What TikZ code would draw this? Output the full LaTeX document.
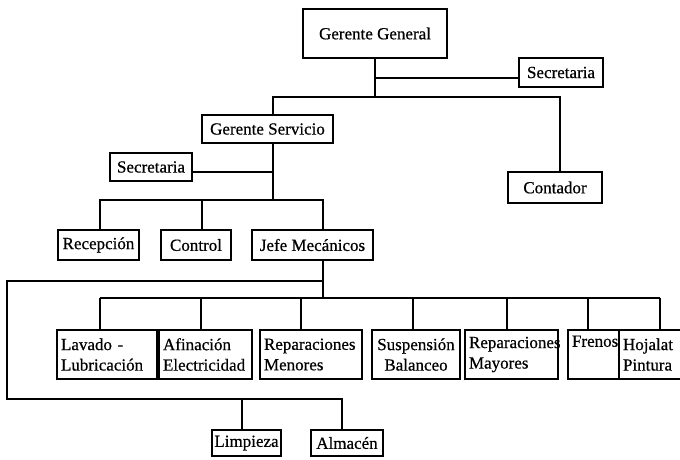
\documentclass[tikz,border=0pt]{standalone}
\usepackage{fontspec}
\setmainfont{Liberation Serif}
\newfontfamily\chartfont[FakeBold=0.6]{Liberation Serif}
\begin{document}
\begin{tikzpicture}[x=1pt,y=-1pt,
  box/.style={draw, line width=1.7pt, inner sep=1pt, align=left,
    font=\chartfont\fontsize{17}{20.5}\selectfont},
  rowbox/.style={box, inner xsep=4pt, text width=#1, minimum height=49pt},
  wire/.style={line width=1.6pt}]
\useasboundingbox (0,0) rectangle (680,459);
% top level
\node[box, line width=2pt, minimum width=144pt, minimum height=49pt] (gg) at (375,33.5) {Gerente General};
\node[box, minimum width=84pt, minimum height=29pt] (sec1) at (561,72.5) {Secretaria};
\node[box, minimum width=94pt, minimum height=31pt] (cont) at (555,187.5) {Contador};
\node[box, minimum width=131pt, minimum height=28pt] (gs) at (267.5,129) {Gerente Servicio};
\node[box, minimum width=82pt, minimum height=28pt] (sec2) at (151,167) {Secretaria};
\node[box, minimum width=81pt, minimum height=30pt] (rec) at (98.5,245) {Recepción};
\node[box, minimum width=70pt, minimum height=30pt] (ctrl) at (196,245) {Control};
\node[box, minimum width=121pt, minimum height=30pt] (jefe) at (312.5,245) {Jefe Mecánicos};
% workshop row (text width = box width - 8pt)
\node[rowbox=92pt] (lav) at (107,354.5) {Lavado -\\Lubricación};
\node[rowbox=85pt] (afi) at (205.5,354.5) {Afinación\\Electricidad};
\node[rowbox=94pt] (rmen) at (311,354.5) {Reparaciones\\Menores};
\node[rowbox=80pt, align=center] (susp) at (416,354.5) {Suspensión\\Balanceo};
\node[rowbox=85pt] (rmay) at (511.5,354.5) {Reparaciones\\Mayores};
\node[rowbox=43pt] (fre) at (593.5,354.5) {Frenos\\\strut};
\node[rowbox=64pt] (hoj) at (655,354.5) {Hojalat\\Pintura};
\node[box, minimum width=69pt, minimum height=26pt] (limp) at (246.5,443) {Limpieza};
\node[box, minimum width=72pt, minimum height=26pt] (alm) at (347,443) {Almacén};
% connectors: top
\coordinate (j1) at (375,97);
\coordinate (s1j) at (375,78);
\coordinate (hL) at (273,97);
\coordinate (hR) at (560,97);
\draw[wire] (gg.south) -- (j1);
\draw[wire] (s1j) -- (s1j -| sec1.west);
\draw[wire] (gs.north -| hL) -- (hL) -- (hR) -- (hR |- cont.north);
% under Gerente Servicio
\coordinate (k) at (273,200);
\coordinate (s2j) at (273,172);
\coordinate (kL) at (100,200);
\coordinate (kM) at (202,200);
\coordinate (kR) at (323,200);
\draw[wire] (gs.south -| k) -- (k);
\draw[wire] (sec2.east |- s2j) -- (s2j);
\draw[wire] (rec.north -| kL) -- (kL) -- (kR) -- (kR |- jefe.north);
\draw[wire] (kM) -- (kM |- ctrl.north);
% under Jefe Mecanicos
\coordinate (m1) at (323,281);
\coordinate (m2) at (323,298);
\coordinate (a1) at (7,281);
\coordinate (a2) at (7,399);
\coordinate (a3) at (342,399);
\coordinate (a4) at (242,399);
\draw[wire] (jefe.south -| m1) -- (m2);
\draw[wire] (m1) -- (a1) -- (a2) -- (a3) -- (a3 |- alm.north);
\draw[wire] (a4) -- (a4 |- limp.north);
\coordinate (r0) at (100,298);
\coordinate (r6) at (660,298);
\draw[wire] (r0) -- (r6);
\foreach \x/\n in {100/lav,201/afi,301/rmen,413/susp,507/rmay,588/fre,660/hoj}{
  \coordinate (d\n) at (\x,298);
  \draw[wire] (d\n) -- (d\n |- \n.north);
}
\end{tikzpicture}
\end{document}
